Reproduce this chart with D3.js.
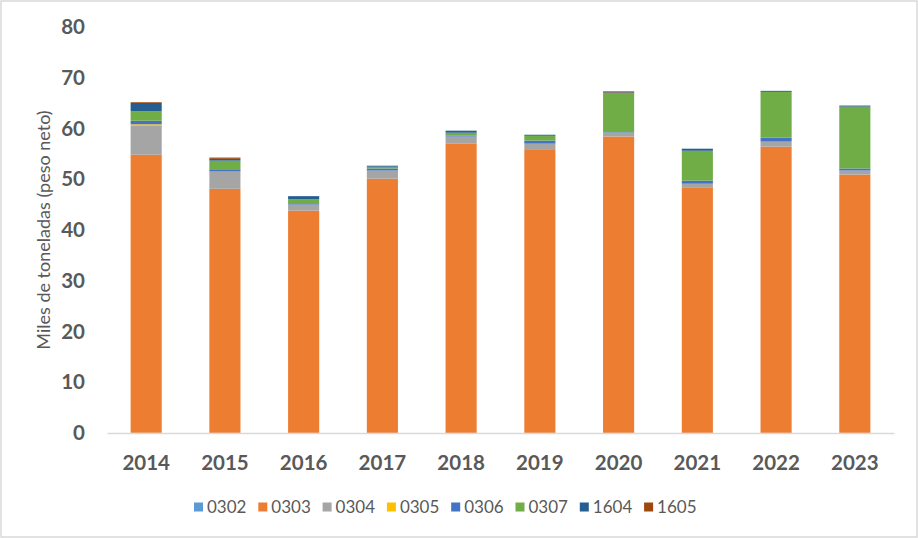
<!DOCTYPE html>
<html>
<head>
<meta charset="utf-8">
<script src="https://cdn.jsdelivr.net/npm/d3@7"></script>
<style>
  body { margin: 0; background: #fff; }
  #svg-container { width: 918px; height: 538px; }
  text { font-family: Lato, "Open Sans", sans-serif; fill: #595959; }
</style>
</head>
<body>
<div id="svg-container"></div>
<script>
////////////////////////////////////////////////////////////////////
////////////////////////////  Data  ////////////////////////////////
const years = ["2014", "2015", "2016", "2017", "2018", "2019", "2020", "2021", "2022", "2023"];
const codes = ["0302", "0303", "0304", "0305", "0306", "0307", "1604", "1605"];

const v0302 = [0.03, 0.02, 0.02, 0.02, 0.02, 0.02, 0.02, 0.02, 0.02, 0.02];
const v0303 = [54.8, 48.1, 43.8, 50.1, 57.05, 55.9, 58.4, 48.4, 56.4, 50.9];
const v0304 = [5.8, 3.4, 1.2, 1.6, 1.35, 1.1, 0.75, 0.7, 1.0, 0.8];
const v0305 = [0.2, 0, 0, 0, 0, 0, 0, 0, 0, 0];
const v0306 = [0.7, 0.45, 0.1, 0.4, 0.15, 0.6, 0.1, 0.6, 0.8, 0.4];
const v0307 = [1.9, 1.7, 0.95, 0.35, 0.6, 0.95, 7.65, 5.9, 9.0, 12.2];
const v1604 = [1.6, 0.35, 0.6, 0.2, 0.4, 0.2, 0.2, 0.4, 0.2, 0.2];
const v1605 = [0.15, 0.25, 0, 0, 0, 0, 0.2, 0, 0, 0];

const yTicks = [0, 10, 20, 30, 40, 50, 60, 70, 80];
const colors = ["#5B9BD5", "#ED7D31", "#A5A5A5", "#FFC000", "#4472C4", "#70AD47", "#255E91", "#9E480E"];

// table for d3.stack
const series = [v0302, v0303, v0304, v0305, v0306, v0307, v1604, v1605];
const table = years.map((y, i) => {
  const row = { year: y };
  codes.forEach((c, j) => (row[c] = series[j][i]));
  return row;
});

////////////////////////////////////////////////////////////////////
////////////////////////////  Init  ///////////////////////////////
const width = 918;
const height = 538;
const margin = { top: 27, right: 24, bottom: 105, left: 107 };

const svg = d3
  .select("#svg-container")
  .append("svg")
  .attr("width", width)
  .attr("height", height);

// chart border
svg
  .append("rect")
  .attr("x", 1)
  .attr("y", 1)
  .attr("width", width - 2)
  .attr("height", height - 2)
  .attr("fill", "#fff")
  .attr("stroke", "#d9d9d9")
  .attr("stroke-width", 1.5);

// scale
const xScale = d3
  .scaleBand()
  .domain(years)
  .range([margin.left, width - margin.right])
  .paddingInner(0.605)
  .paddingOuter(0.3);

const yScale = d3
  .scaleLinear()
  .domain([0, 80])
  .range([height - margin.bottom, margin.top]);

const color = d3.scaleOrdinal().domain(codes).range(colors);

const stacked = d3.stack().keys(codes)(table);

////////////////////////////////////////////////////////////////////
////////////////////////////  Bars  ////////////////////////////////
svg
  .append("g")
  .selectAll("g")
  .data(stacked)
  .join("g")
  .attr("fill", (d) => color(d.key))
  .selectAll("rect")
  .data((d) => d)
  .join("rect")
  .attr("x", (d) => xScale(d.data.year))
  .attr("y", (d) => yScale(d[1]))
  .attr("width", xScale.bandwidth())
  .attr("height", (d) => yScale(d[0]) - yScale(d[1]));

////////////////////////////////////////////////////////////////////
////////////////////////////  Axes  ////////////////////////////////
const xAxis = d3.axisBottom(xScale).tickSize(0).tickPadding(22);
const gx = svg
  .append("g")
  .attr("transform", `translate(0,${height - margin.bottom})`)
  .call(xAxis);
gx.select(".domain").attr("stroke", "#d9d9d9").attr("stroke-width", 1.5);
gx.selectAll("text")
  .attr("font-size", 20.5)
  .attr("font-weight", "bold")
  .style("font-family", "Lato, sans-serif")
  .attr("fill", "#595959");

const yAxis = d3.axisLeft(yScale).tickValues(yTicks).tickSize(0).tickPadding(22);
const gy = svg
  .append("g")
  .attr("transform", `translate(${margin.left}, 0)`)
  .call(yAxis);
gy.select(".domain").remove();
gy.selectAll("text")
  .attr("font-size", 20.5)
  .attr("font-weight", "bold")
  .style("font-family", "Lato, sans-serif")
  .attr("fill", "#595959");

// y title
svg
  .append("text")
  .attr("transform", `translate(50, ${(margin.top + height - margin.bottom) / 2}) rotate(-90)`)
  .attr("text-anchor", "middle")
  .attr("font-size", 18)
  .attr("fill", "#404040")
  .text("Miles de toneladas (peso neto)");

////////////////////////////////////////////////////////////////////
////////////////////////////  Legend  //////////////////////////////
const legend = svg
  .append("g")
  .selectAll("g")
  .data(codes)
  .join("g")
  .attr("transform", (d, i) => `translate(${194 + i * 64.3}, 507)`);

legend
  .append("rect")
  .attr("x", 0)
  .attr("y", -4.5)
  .attr("width", 9)
  .attr("height", 9)
  .attr("fill", (d) => color(d));

legend
  .append("text")
  .attr("x", 13)
  .attr("dy", "0.35em")
  .attr("font-size", 17)
  .text((d) => d);
</script>
</body>
</html>
